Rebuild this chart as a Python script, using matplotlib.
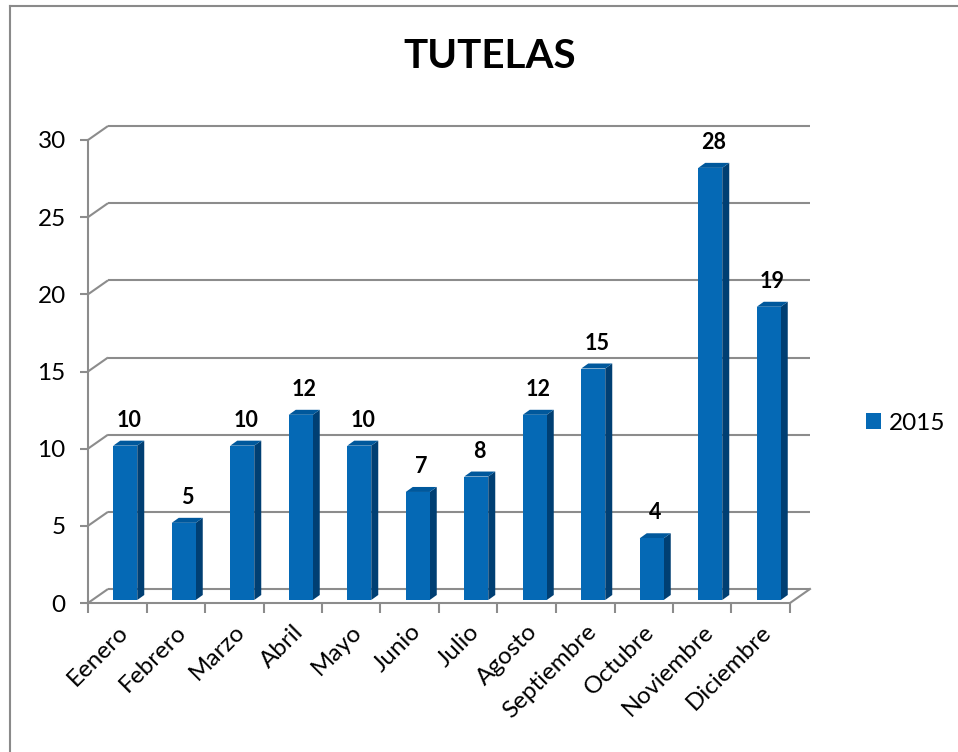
import matplotlib
matplotlib.use("Agg")
import matplotlib.pyplot as plt
from matplotlib.patches import Polygon, Patch
from matplotlib.lines import Line2D

# ---- data ----
categories = ["Eenero", "Febrero", "Marzo", "Abril", "Mayo", "Junio", "Julio",
              "Agosto", "Septiembre", "Octubre", "Noviembre", "Diciembre"]
values = [10, 5, 10, 12, 10, 7, 8, 12, 15, 4, 28, 19]
series_name = "2015"
title = "TUTELAS"
yticks = [0, 5, 10, 15, 20, 25, 30]

plt.rcParams['font.family'] = ['Lato', 'DejaVu Sans']

W, H = 958, 752
DPI = 100
fig = plt.figure(figsize=(W / DPI, H / DPI), dpi=DPI)
fig.patch.set_facecolor("white")

# axes layout in pixels
ax_left, ax_right = 88, 810
ax_top, ax_bottom = 126, 603
ax = fig.add_axes([ax_left / W, 1 - ax_bottom / H,
                   (ax_right - ax_left) / W, (ax_bottom - ax_top) / H])

n = len(categories)
ymax = 30
px_per_cat = (ax_right - ax_left - 20) / n
px_per_unit = (ax_bottom - 140) / ymax
DX = 20 / px_per_cat        # depth offset in category units
DY = 14 / px_per_unit       # depth offset in value units
ax.set_xlim(-0.5, n - 0.5 + DX)
ax.set_ylim(0, ymax + DY)

grid_c = "#8c8c8c"
glw = 1.5

# back wall gridlines + left diagonals
for v in yticks:
    ax.plot([-0.5, -0.5 + DX], [v, v + DY], color=grid_c, lw=glw, zorder=1,
            solid_capstyle="butt", clip_on=False)
    ax.plot([-0.5 + DX, n - 0.5 + DX], [v + DY, v + DY], color=grid_c, lw=glw,
            zorder=1, solid_capstyle="butt", clip_on=False)
# floor: front edge and right diagonal
ax.plot([-0.5, n - 0.5], [0, 0], color=grid_c, lw=glw, zorder=1, clip_on=False)
ax.plot([n - 0.5, n - 0.5 + DX], [0, DY], color=grid_c, lw=glw, zorder=1,
        clip_on=False)

# 3D bars
front_c = "#0569B5"
side_c = "#003F73"
top_c = "#00589C"
bw = 24 / px_per_cat
ox = 8 / px_per_cat
oy = 3 / px_per_unit
bdx = 7 / px_per_cat
bdy = 5 / px_per_unit
for i, v in enumerate(values):
    x0 = i + ox - bw / 2
    x1 = x0 + bw
    y0 = oy
    y1 = v + oy
    ax.add_patch(Polygon([(x1, y0), (x1 + bdx, y0 + bdy), (x1 + bdx, y1 + bdy), (x1, y1)],
                         closed=True, facecolor=side_c, edgecolor="none", zorder=3))
    ax.add_patch(Polygon([(x0, y1), (x1, y1), (x1 + bdx, y1 + bdy), (x0 + bdx, y1 + bdy)],
                         closed=True, facecolor=top_c, edgecolor="none", zorder=3))
    ax.bar([i + ox], [v], width=bw, bottom=oy, color=front_c, zorder=4)
    ax.text(i + ox + bdx / 2, y1 + bdy + 14 / px_per_unit, str(v), ha="center",
            va="baseline", fontsize=15.5, fontweight="bold", color="black", zorder=5)

# axes styling
for s in ["top", "right", "bottom"]:
    ax.spines[s].set_visible(False)
ax.spines["left"].set_color(grid_c)
ax.spines["left"].set_linewidth(glw)
ax.spines["left"].set_bounds(0, ymax)
ax.set_yticks(yticks)
ax.set_yticklabels([str(t) for t in yticks])
ax.tick_params(axis="y", length=6, width=glw, color=grid_c, pad=10,
               labelsize=17.5, labelcolor="black")

ax.set_xticks(range(n))
ax.set_xticklabels(categories, rotation=45, ha="right", rotation_mode="anchor")
ax.set_xticks([i - 0.5 for i in range(n + 1)], minor=True)
ax.tick_params(axis="x", which="major", length=0, pad=13, labelsize=17.5,
               labelcolor="black")
ax.tick_params(axis="x", which="minor", length=7, width=glw, color=grid_c,
               direction="out")
ax.spines["bottom"].set_visible(False)
ax.xaxis.set_ticks_position("bottom")
ax.patch.set_visible(False)

# title
fig.text(490 / W, 1 - 57 / H, title, ha="center", va="center", fontsize=29,
         fontweight="bold", color="black")

# legend
fig.legend(handles=[Patch(facecolor=front_c, edgecolor="none")], labels=[series_name],
           loc="center left", bbox_to_anchor=(866 / W, 1 - 423 / H), frameon=False,
           fontsize=17.5, handlelength=0.6, handleheight=0.6, handletextpad=0.35,
           borderpad=0, borderaxespad=0)

# chart border (top and left edges)
fig.add_artist(Line2D([9.5 / W, 1], [1 - 5.5 / H, 1 - 5.5 / H], color="#8a8a8a",
                      lw=1.5, transform=fig.transFigure))
fig.add_artist(Line2D([9.5 / W, 9.5 / W], [0, 1 - 5.5 / H], color="#8a8a8a",
                      lw=1.5, transform=fig.transFigure))

fig.savefig("out.png", dpi=DPI, facecolor="white")
